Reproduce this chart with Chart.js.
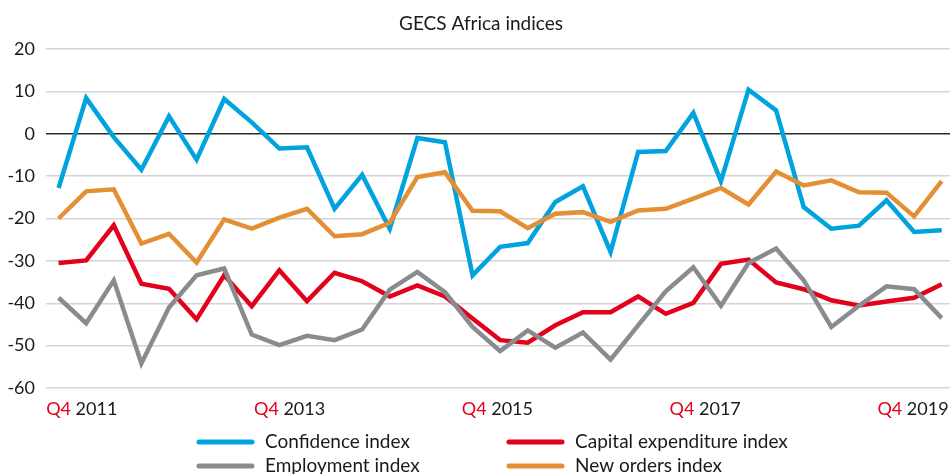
<!DOCTYPE html>
<html>
<head>
<meta charset="utf-8">
<script src="https://cdn.jsdelivr.net/npm/chart.js@4.4.1/dist/chart.umd.min.js"></script>
<style>
  html, body { margin: 0; padding: 0; background: #fff; }
  #wrap { width: 950px; height: 474px; position: relative; }
</style>
</head>
<body>
<div id="wrap"><canvas id="gecsChart" width="950" height="474"></canvas></div>
<script>
// quarterly survey, Q4 2011 .. Q4 2019
const quarters = [
  "Q4 2011", "Q1 2012", "Q2 2012", "Q3 2012", "Q4 2012", "Q1 2013", "Q2 2013", "Q3 2013",
  "Q4 2013", "Q1 2014", "Q2 2014", "Q3 2014", "Q4 2014", "Q1 2015", "Q2 2015", "Q3 2015",
  "Q4 2015", "Q1 2016", "Q2 2016", "Q3 2016", "Q4 2016", "Q1 2017", "Q2 2017", "Q3 2017",
  "Q4 2017", "Q1 2018", "Q2 2018", "Q3 2018", "Q4 2018", "Q1 2019", "Q2 2019", "Q3 2019",
  "Q4 2019"
];

const confidence = [
  -12.8, 8.4, -0.8, -8.5, 4.1, -6.1, 8.2, 2.7, -3.5, -3.2, -17.7, -9.7, -22.4, -1.0, -2.0, -33.4,
  -26.7, -25.8, -16.1, -12.4, -27.9, -4.3, -4.1, 4.9, -11.2, 10.4, 5.5, -17.3, -22.4, -21.7, -15.7, -23.2,
  -22.8
];

const capex = [
  -30.5, -29.9, -21.6, -35.4, -36.6, -43.8, -33.4, -40.7, -32.2, -39.5, -32.8, -34.8, -38.4, -35.8, -38.4, -43.6,
  -48.7, -49.3, -45.2, -42.1, -42.1, -38.4, -42.5, -39.9, -30.7, -29.7, -35.1, -36.7, -39.3, -40.5, -39.6, -38.7,
  -35.5
];

const employment = [
  -38.7, -44.7, -34.6, -54.2, -41.0, -33.4, -31.8, -47.4, -49.9, -47.7, -48.7, -46.2, -36.8, -32.6, -37.4, -45.6,
  -51.3, -46.4, -50.5, -46.9, -53.3, -45.2, -37.2, -31.5, -40.6, -30.5, -27.1, -34.6, -45.6, -40.6, -36.0, -36.7,
  -43.5
];

const newOrders = [
  -20.0, -13.6, -13.1, -25.9, -23.6, -30.4, -20.2, -22.4, -19.8, -17.7, -24.2, -23.7, -21.0, -10.2, -9.1, -18.2,
  -18.3, -22.3, -18.9, -18.5, -20.8, -18.1, -17.7, -15.3, -12.8, -16.7, -8.9, -12.2, -11.0, -13.8, -13.9, -19.5,
  -11.2
];

const axisLabels = [
  { q: "Q4", year: "2011" },
  { q: "Q4", year: "2013" },
  { q: "Q4", year: "2015" },
  { q: "Q4", year: "2017" },
  { q: "Q4", year: "2019" }
];

const yTicks = { min: -60, max: 20, step: 10 };

const COLORS = {
  confidence: "#00a3de",
  capex: "#e3001b",
  employment: "#898c8e",
  newOrders: "#e48f34",
  qText: "#e3001b",
  text: "#1a1a1a"
};
const FONT = "Lato, 'Noto Sans', sans-serif";

const toPoints = arr => arr.map((v, i) => ({ x: i, y: v }));

function makeSet(label, values, color, order) {
  return {
    label: label,
    data: toPoints(values),
    borderColor: color,
    backgroundColor: color,
    borderWidth: 4.5,
    borderJoinStyle: "miter",
    pointRadius: 0,
    pointHoverRadius: 0,
    tension: 0,
    fill: false,
    order: order
  };
}

// title, two-colour x labels and the 2-column legend
const decorations = {
  id: "decorations",
  afterDraw(chart) {
    const ctx = chart.ctx;
    const xs = chart.scales.x;
    ctx.save();

    ctx.fillStyle = COLORS.text;
    ctx.font = "19px " + FONT;
    ctx.textAlign = "center";
    ctx.textBaseline = "middle";
    ctx.fillText("GECS Africa indices", 481, 24);

    // x labels sit evenly spaced, a little off the quarter positions
    ctx.font = "18px " + FONT;
    ctx.textAlign = "left";
    axisLabels.forEach((lab, k) => {
      const center = xs.getPixelForValue(0.84 + k * 7.53);
      const qw = ctx.measureText(lab.q + " ").width;
      const yw = ctx.measureText(lab.year).width;
      const x0 = center - (qw + yw) / 2;
      ctx.fillStyle = COLORS.qText;
      ctx.fillText(lab.q, x0, 409);
      ctx.fillStyle = COLORS.text;
      ctx.fillText(lab.year, x0 + qw, 409);
    });

    ctx.font = "19px " + FONT;
    const items = [
      { text: "Confidence index", color: COLORS.confidence, x: 197, y: 442 },
      { text: "Capital expenditure index", color: COLORS.capex, x: 507, y: 442 },
      { text: "Employment index", color: COLORS.employment, x: 197, y: 466 },
      { text: "New orders index", color: COLORS.newOrders, x: 507, y: 466 }
    ];
    items.forEach(it => {
      ctx.strokeStyle = it.color;
      ctx.lineWidth = 5;
      ctx.lineCap = "round";
      ctx.beginPath();
      ctx.moveTo(it.x + 2, it.y);
      ctx.lineTo(it.x + 55, it.y);
      ctx.stroke();
      ctx.fillStyle = COLORS.text;
      ctx.fillText(it.text, it.x + 68, it.y);
    });

    ctx.restore();
  }
};

const ctx = document.getElementById("gecsChart").getContext("2d");
new Chart(ctx, {
  type: "line",
  data: {
    datasets: [
      makeSet("Confidence index", confidence, COLORS.confidence, 2),
      makeSet("Capital expenditure index", capex, COLORS.capex, 4),
      makeSet("Employment index", employment, COLORS.employment, 3),
      makeSet("New orders index", newOrders, COLORS.newOrders, 1)
    ]
  },
  options: {
    responsive: false,
    animation: false,
    events: [],
    layout: { padding: { top: 49, bottom: 86, left: 0, right: 0 } },
    plugins: {
      legend: { display: false },
      title: { display: false },
      tooltip: { enabled: false }
    },
    scales: {
      x: {
        type: "linear",
        display: false,
        min: -0.456,
        max: 32.3
      },
      y: {
        min: yTicks.min,
        max: yTicks.max,
        afterFit(scale) { scale.width = 46; },
        border: { display: false },
        grid: {
          drawTicks: false,
          lineWidth: 1.5,
          color: c => (c.tick && c.tick.value === 0 ? "#2b2b2b" : "#d4d4d4")
        },
        ticks: {
          stepSize: yTicks.step,
          padding: 11,
          color: COLORS.text,
          font: { family: FONT, size: 18 }
        }
      }
    }
  },
  plugins: [decorations]
});
</script>
</body>
</html>
